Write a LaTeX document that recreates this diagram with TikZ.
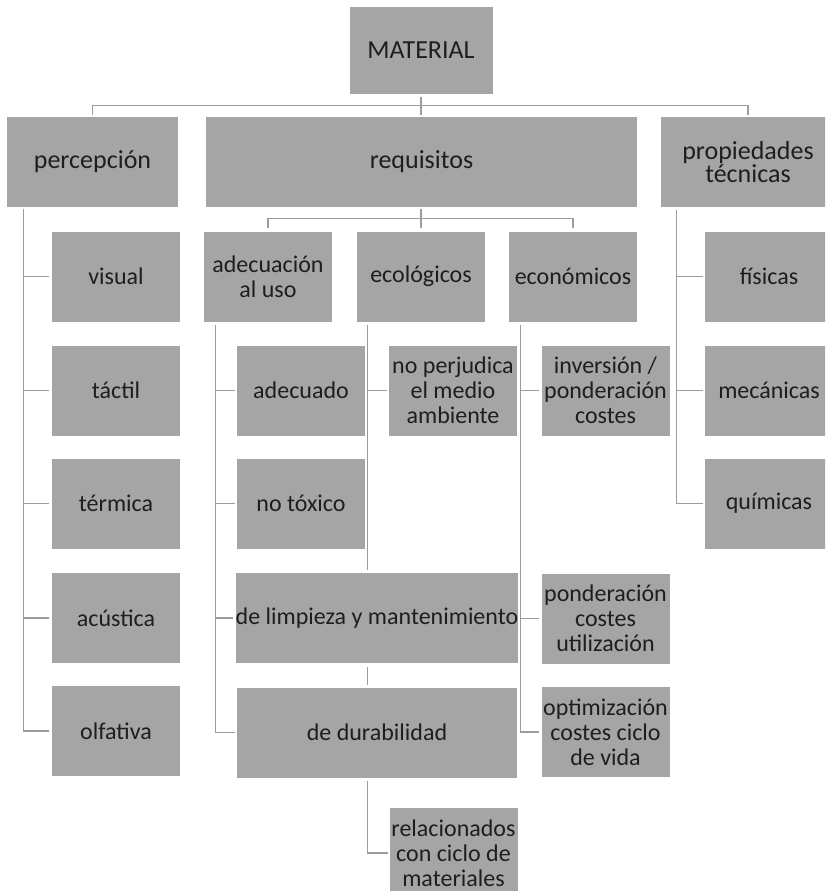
\documentclass[tikz,border=0pt]{standalone}
\usepackage{fontspec}
\setmainfont{Carlito}
\usetikzlibrary{calc}
\definecolor{boxgray}{HTML}{A5A5A5}
\definecolor{linegray}{HTML}{9C9C9C}
\definecolor{txt}{HTML}{1E1E1E}
\begin{document}
\begin{tikzpicture}[x=0.75pt,y=-0.75pt,
  box/.style={fill=boxgray, draw=none, inner sep=0pt, text=txt, align=center,
    minimum width=96pt, minimum height=67.5pt, font=\fontsize{18}{18.75}\selectfont},
  topbox/.style={box, font=\fontsize{19.5}{16}\selectfont},
  conn/.style={draw=linegray, line width=1pt}]
\useasboundingbox (0,0) rectangle (825,891);
\clip (0,0) rectangle (825,891);
% top level
\node[topbox, minimum width=107.25pt, minimum height=65.25pt] (mat) at (421,50.5) {MATERIAL};
\node[topbox, minimum width=128.25pt] (perc) at (92.5,162) {percepción};
\node[topbox, minimum width=323.25pt] (req) at (421.5,162) {requisitos};
\node[topbox, minimum width=130.5pt] (prop) at (748,162) {propiedades\\técnicas};
% percepcion
\node[box] (visual) at (116,276.5) {visual};
\node[box] (tactil) at (116,390.5) {táctil};
\node[box] (termica) at (116,503.5) {térmica};
\node[box] (acustica) at (116,618) {acústica};
\node[box] (olfativa) at (116,731) {olfativa};
% requisitos
\node[box] (adec) at (268,276.5) {adecuación\\al uso};
\node[box] (eco) at (421,276.5) {ecológicos};
\node[box] (econ) at (573,276.5) {económicos};
\node[box] (adecuado) at (301,390.5) {adecuado};
\node[box] (notox) at (301,503.5) {no tóxico};
\node[box] (noperj) at (453,390.5) {no perjudica\\el medio\\ambiente};
\node[box] (inv) at (605.5,390.5) {inversión /\\ponderación\\costes};
\node[box, minimum width=210pt] (limp) at (377,618) {de limpieza y mantenimiento};
\node[box, minimum width=210pt] (dura) at (377,732.5) {de durabilidad};
\node[box] (pcu) at (605.5,618.5) {ponderación\\costes\\utilización};
\node[box] (opt) at (605.5,732) {optimización\\costes ciclo\\de vida};
\node[box] (rel) at (453.5,853) {relacionados\\con ciclo de\\materiales};
% propiedades
\node[box] (fis) at (769,276.5) {físicas};
\node[box] (mec) at (769,390.5) {mecánicas};
\node[box] (qui) at (769,503.5) {químicas};
% connectors: level 1
\draw[conn] ($(mat.south)+(0,3)$) -- ($(mat.south |- req.north)+(0,-2)$);
\draw[conn] ($(perc.north)+(0,-2)$) -- ++(0,-9) -| ($(prop.north)+(0,-2)$);
% level 2 under requisitos
\draw[conn] ($(eco.north |- req.south)+(0,2)$) -- ($(eco.north)+(0,-3)$);
\draw[conn] ($(adec.north)+(0,-3)$) -- ++(0,-10) -| ($(econ.north)+(0,-3)$);
% percepcion tree
\coordinate (pv) at ($(perc.south west)+(17,2)$);
\draw[conn] (pv) |- ($(olfativa.west)+(-3,0)$);
\foreach \n in {visual,tactil,termica,acustica}
  \draw[conn] (\n.west -| pv) -- ($(\n.west)+(-3,0)$);
% adecuacion tree
\coordinate (av) at ($(adec.south west)+(12,3)$);
\draw[conn] (av) |- ($(dura.west)+(-2,0)$);
\foreach \n in {adecuado,notox,limp}
  \draw[conn] (\n.west -| av) -- ($(\n.west)+(-2,0)$);
% ecologicos tree
\coordinate (ev) at ($(eco.south west)+(11,3)$);
\draw[conn] (ev) -- ($(limp.north -| ev)+(0,-3)$);
\draw[conn] (noperj.west -| ev) -- ($(noperj.west)+(-2,0)$);
\draw[conn] ($(limp.south -| ev)+(0,4)$) -- ($(dura.north -| ev)+(0,-2)$);
\draw[conn] ($(dura.south -| ev)+(0,3)$) |- ($(rel.west)+(-1,0)$);
% economicos tree
\coordinate (cv) at ($(econ.south west)+(12,3)$);
\draw[conn] (cv) |- ($(opt.west)+(-2,0)$);
\foreach \n in {inv,pcu}
  \draw[conn] (\n.west -| cv) -- ($(\n.west)+(-2,0)$);
% propiedades tree
\coordinate (tv) at ($(prop.south west)+(16,3)$);
\draw[conn] (tv) |- ($(qui.west)+(-2,0)$);
\foreach \n in {fis,mec}
  \draw[conn] (\n.west -| tv) -- ($(\n.west)+(-2,0)$);
\end{tikzpicture}
\end{document}
